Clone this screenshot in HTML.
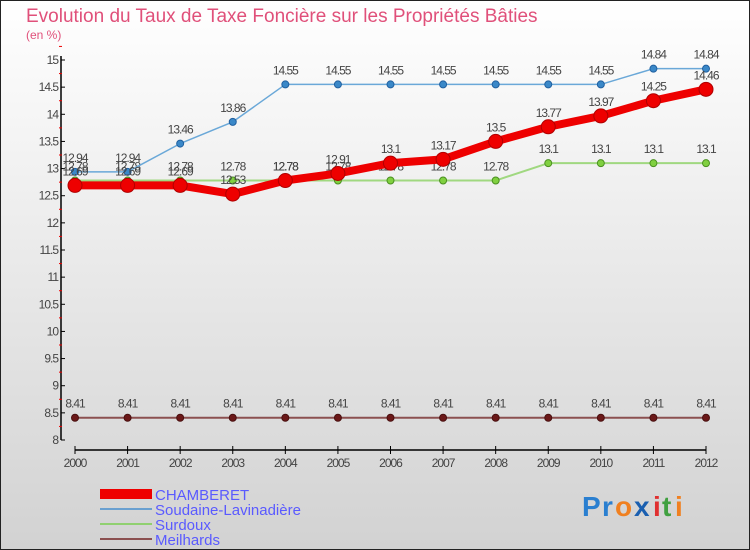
<!DOCTYPE html>
<html><head><meta charset="utf-8"><style>
body{margin:0;width:750px;height:550px;overflow:hidden;font-family:"Liberation Sans",sans-serif}
svg{display:block}
</style></head><body>
<svg id="chart" width="750" height="550" xmlns="http://www.w3.org/2000/svg">
<defs><linearGradient id="bg" x1="0" y1="0" x2="0" y2="1"><stop offset="0" stop-color="#ffffff"/><stop offset="1" stop-color="#d2d2d2"/></linearGradient></defs>
<rect x="0.5" y="0.5" width="749" height="549" fill="url(#bg)" stroke="#222"/>
<text x="26" y="22" font-size="19" fill="#e0507a">Evolution du Taux de Taxe Foncière sur les Propriétés Bâties</text>
<text x="26" y="39" font-size="12" fill="#e0507a">(en %)</text>
<g id="axes"></g>
<g id="series"></g>
<g>
<rect x="100" y="489" width="52" height="10" fill="#e00"/>
<text x="155" y="500" font-size="15" fill="#5a5aff">CHAMBERET</text>
<rect x="100" y="508" width="52" height="2" fill="#6aa0d0"/>
<text x="155" y="515" font-size="15" fill="#5a5aff">Soudaine-Lavinadière</text>
<rect x="100" y="523" width="52" height="2" fill="#90d070"/>
<text x="155" y="530" font-size="15" fill="#5a5aff">Surdoux</text>
<rect x="100" y="538" width="52" height="2" fill="#8b5050"/>
<text x="155" y="545" font-size="15" fill="#5a5aff">Meilhards</text>
</g>
<g font-size="28" font-weight="bold">
<text x="582" y="516" fill="#2a7fd0">P</text><text x="602" y="516" fill="#2a7fd0">r</text><text x="615" y="516" fill="#f08020">o</text><text x="634" y="516" fill="#1a5fb0">x</text><text x="653" y="516" fill="#e03030">i</text><text x="662" y="516" fill="#40a040">t</text><text x="675" y="516" fill="#f08020">i</text>
</g>
</svg>
<script>
const years=[2000,2001,2002,2003,2004,2005,2006,2007,2008,2009,2010,2011,2012];
const chamberet=[12.69,12.69,12.69,12.53,12.78,12.91,13.1,13.17,13.5,13.77,13.97,14.25,14.46];
const soudaine=[12.94,12.94,13.46,13.86,14.55,14.55,14.55,14.55,14.55,14.55,14.55,14.84,14.84];
const surdoux=[12.78,12.78,12.78,12.78,12.78,12.78,12.78,12.78,12.78,13.1,13.1,13.1,13.1];
const meilhards=[8.41,8.41,8.41,8.41,8.41,8.41,8.41,8.41,8.41,8.41,8.41,8.41,8.41];
const yTicks=[8,8.5,9,9.5,10,10.5,11,11.5,12,12.5,13,13.5,14,14.5,15];
const NS="http://www.w3.org/2000/svg";
const xS=i=>75+i*(706-75)/(years.length-1);
const yS=v=>440-(v-8)*(380/7);
function mk(p,t,a){const e=document.createElementNS(NS,t);for(const k in a)e.setAttribute(k,a[k]);p.appendChild(e);return e;}
const ax=document.getElementById('axes');
const yl=mk(ax,'line',{x1:61,y1:yS(15)-4,x2:61,y2:yS(8),stroke:'#000','stroke-width':1.5});


const xl=mk(ax,'line',{x1:xS(0),y1:450,x2:xS(12),y2:450,stroke:'#000','stroke-width':1.5});


yTicks.forEach(v=>{
 mk(ax,'line',{x1:61,y1:yS(v),x2:65,y2:yS(v),stroke:'#000'});
 mk(ax,'line',{x1:59,y1:yS(v+0.25),x2:62,y2:yS(v+0.25),stroke:'#e00'});
 const t=mk(ax,'text',{x:58,y:yS(v)+4,'font-size':12,fill:'#444','text-anchor':'end','letter-spacing':'-1'});
 t.textContent=String(v);
 
 
});
years.forEach((y,i)=>{
 mk(ax,'line',{x1:xS(i),y1:446,x2:xS(i),y2:454,stroke:'#000'});
 const t=mk(ax,'text',{x:xS(i),y:467,'font-size':12,fill:'#444','text-anchor':'middle','letter-spacing':'-1'});
 t.textContent=y;
 
 
});
const sg=document.getElementById('series');
function drawSeries(name,vals,color,w,r,dot,dotStroke){
 const g=mk(sg,'g',{});
 
 
 const pl=mk(g,'polyline',{points:vals.map((v,i)=>xS(i)+','+yS(v)).join(' '),fill:'none',stroke:color,'stroke-width':w,'stroke-linejoin':'round'});
 
 
 vals.forEach((v,i)=>{
  const c=mk(g,'circle',{cx:xS(i),cy:yS(v),r:r,fill:dot,stroke:dotStroke,'stroke-width':1});
  
  
  const t=mk(g,'text',{x:xS(i),y:yS(v)-10,'font-size':12,fill:'#444','text-anchor':'middle','letter-spacing':'-1'});
  t.textContent=String(v);
  
  
 });
}
drawSeries('meilhards',meilhards,'#8b5050',2,3.5,'#6b1818','#4a1010');
drawSeries('surdoux',surdoux,'#a0d880',2,3.5,'#80d040','#4a9020');
drawSeries('soudaine',soudaine,'#6aa8d8',1.5,3.5,'#3a88c8','#2060a0');
drawSeries('chamberet',chamberet,'#ee0000',8,7,'#ee0000','#b00000');
</script>
</body></html>
